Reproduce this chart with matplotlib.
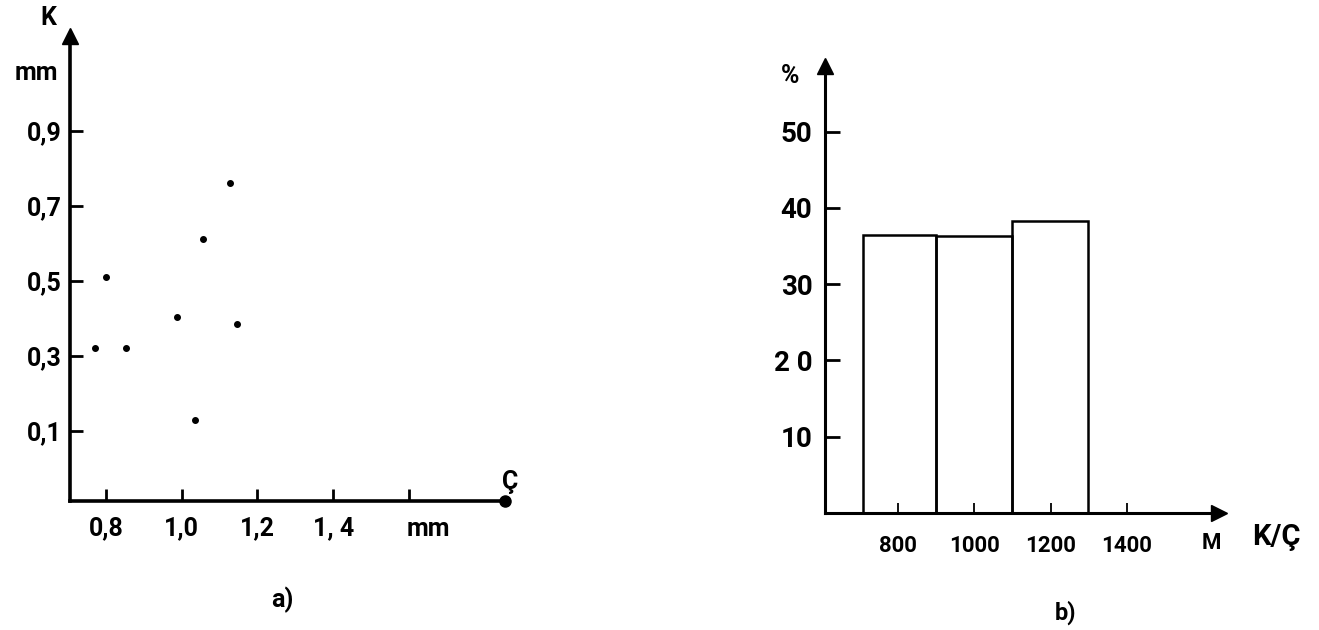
import matplotlib.pyplot as plt
import numpy as np

plt.rcParams['font.family'] = ['Roboto', 'DejaVu Sans']
plt.rcParams['font.weight'] = 'bold'

# a) K (mm) against Ç (mm)
cap_mm = [1.127, 1.056, 0.800, 0.987, 1.146, 0.771, 0.853, 1.035]
k_mm = [0.760, 0.613, 0.512, 0.403, 0.385, 0.321, 0.321, 0.129]
a_xticks = [0.8, 1.0, 1.2, 1.4, 1.6]
a_xlabels = ['0,8', '1,0', '1,2', '1, 4', '']
a_yticks = [0.1, 0.3, 0.5, 0.7, 0.9]
a_ylabels = ['0,1', '0,3', '0,5', '0,7', '0,9']

# b) share of K/Ç classes (%)
bin_edges = [708, 900, 1100, 1298]
percent = [36.4, 36.3, 38.3]
b_xticks = [800, 1000, 1200, 1400]
b_yticks = [10, 20, 30, 40, 50]
b_ylabels = ['10', '2 0', '30', '40', '50']

W, H = 1319, 630
fig = plt.figure(figsize=(W / 100, H / 100), dpi=100)


def px_axes(x0, y0, x1, y1):
    return fig.add_axes([x0 / W, 1 - y1 / H, (x1 - x0) / W, (y1 - y0) / H])


def ftext(x, y, s, **kw):
    fig.text(x / W, 1 - y / H, s, ha='center', va='center', **kw)


def style_axes(ax, lw):
    for side in ('top', 'right'):
        ax.spines[side].set_visible(False)
    for side in ('left', 'bottom'):
        ax.spines[side].set_linewidth(lw)
    ax.patch.set_alpha(0)


# ---- panel a ----
ax1 = px_axes(70, 36, 505, 501)
style_axes(ax1, 2.6)
ax1.set_xlim(0.705, 1.8535)
ax1.set_ylim(-0.086, 1.153)
ax1.scatter(cap_mm, k_mm, s=16, color='black', zorder=3)
ax1.plot(1, 0, 'o', color='black', ms=8, transform=ax1.transAxes, clip_on=False)
ax1.plot(0, 1, '^', color='black', ms=11, transform=ax1.transAxes, clip_on=False)
ax1.set_xticks(a_xticks)
ax1.set_xticklabels(a_xlabels)
ax1.set_yticks(a_yticks)
ax1.set_yticklabels(a_ylabels)
ax1.tick_params(axis='both', direction='in', length=9, width=2, labelsize=18)
ax1.tick_params(axis='y', pad=6)
ax1.tick_params(axis='x', pad=11)

ftext(48, 18, 'K', fontsize=18)
ftext(36, 73, 'mm', fontsize=18)
ftext(428, 529, 'mm', fontsize=18)
ftext(510, 482, 'Ç', fontsize=18)
ftext(282, 600, 'a)', fontsize=18)

# ---- panel b ----
ax2 = px_axes(825, 66, 1219, 513)
style_axes(ax2, 2.2)
ax2.set_xlim(609, 1641)
ax2.set_ylim(0, 58.62)
ax2.bar(bin_edges[:-1], percent, width=np.diff(bin_edges), align='edge',
        fill=False, edgecolor='black', linewidth=1.8)
ax2.plot(1, 0, '>', color='black', ms=12, transform=ax2.transAxes, clip_on=False)
ax2.plot(0, 1, '^', color='black', ms=12, transform=ax2.transAxes, clip_on=False)
ax2.set_xticks(b_xticks)
ax2.set_yticks(b_yticks)
ax2.set_yticklabels(b_ylabels)
ax2.tick_params(axis='x', direction='in', length=7, width=1.3, pad=16, labelsize=16)
ax2.tick_params(axis='y', direction='in', length=11, width=2, pad=9, labelsize=20)

ftext(790, 76, '%', fontsize=18)
ftext(1211, 543, 'M', fontsize=16)
ftext(1276, 537, 'K/Ç', fontsize=21)
ftext(1066, 613, 'b)', fontsize=17)

fig.savefig('out.png', dpi=100)
